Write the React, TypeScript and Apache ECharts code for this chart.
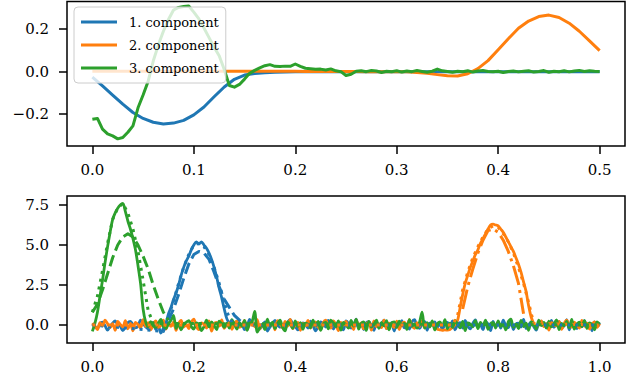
import React, { useEffect, useRef } from "react";
import * as echarts from "echarts";

const componentNames = ["1. component", "2. component", "3. component"];
const colors = ["#1f77b4", "#ff7f0e", "#2ca02c"];

const topXTicks = [0, 0.1, 0.2, 0.3, 0.4, 0.5];
const topYTicks = [-0.2, 0, 0.2];
const bottomXTicks = [0, 0.2, 0.4, 0.6, 0.8, 1.0];
const bottomYTicks = [0, 2.5, 5, 7.5];

// Top panel: estimated components (blue/orange sampled every 0.01, green every 0.005)
const topStep = 0.01;
const blueTop = [
  -0.026, -0.067, -0.11, -0.153, -0.192, -0.22, -0.238, -0.246, -0.242, -0.229,
  -0.203, -0.166, -0.118, -0.072, -0.036, -0.016, -0.009, -0.005, -0.003, -0.002,
  -0.001, -0.001, 0.0, -0.001, 0.0, 0.0, -0.001, 0.0, 0.0, 0.0,
  -0.001, 0.0, 0.0, 0.0, -0.001, 0.0, 0.0, 0.0, 0.0, -0.001,
  0.0, 0.0, 0.0, 0.0, 0.0, -0.001, 0.0, 0.0, 0.0, 0.0, 0.0,
];
const orangeTop = [
  0.002, 0.002, 0.002, 0.002, 0.002, 0.002, 0.002, 0.002, 0.002, 0.002,
  0.002, 0.002, 0.002, 0.002, 0.002, 0.002, 0.002, 0.002, 0.002, 0.002,
  0.002, 0.001, 0.001, 0.001, 0.001, 0.001, 0.001, 0.0, 0.0, 0.0, 0.0,
  -0.001, -0.004, -0.008, -0.014, -0.019, -0.02, -0.01, 0.014, 0.052, 0.103,
  0.155, 0.204, 0.238, 0.259, 0.266, 0.255, 0.228, 0.19, 0.145, 0.099,
];
const greenTopStep = 0.005;
const greenTop = [
  -0.224, -0.22, -0.27, -0.293, -0.302, -0.316, -0.31, -0.285, -0.255, -0.17,
  -0.11, -0.045, 0.05, 0.125, 0.19, 0.245, 0.29, 0.302, 0.306, 0.309,
  0.28, 0.248, 0.205, 0.16, 0.115, 0.075, 0.01, -0.065, -0.073, -0.06,
  -0.035, -0.008, 0.006, 0.018, 0.028, 0.033, 0.025, 0.024, 0.026, 0.025,
  0.036, 0.025, 0.016, 0.014, 0.011, 0.012, 0.008, 0.013, 0.004, 0.0,
  -0.018, -0.012, 0.002, 0.004, 0.0, 0.005, 0.003,
  -0.004, 0.002, 0.0, 0.004, -0.002, 0.003, 0.0, 0.005, 0.001, -0.003,
  0.002, 0.012, 0.004, 0.001, -0.003, 0.002, 0.0, 0.004, -0.002, 0.003,
  0.005, 0.001, 0.0, 0.002, -0.004, 0.001, 0.003, -0.001, 0.002, 0.004,
  -0.002, 0.001, 0.005, -0.003, 0.002, 0.0, 0.004, -0.001, 0.003, 0.006,
  0.001, 0.004, 0.002, 0.001,
];

// Bottom panel: noisy sources sampled every 0.005 over 0..1
const bottomStep = 0.005;
const blueNoisy = [
  // 0 – 0.145
  0.05, -0.12, -0.21, 0.09, 0.18, -0.05, -0.32, -0.1, 0.12, 0.26,
  0.03, -0.08, -0.35, -0.14, 0.15, 0.22, 0.02, -0.18, -0.06, 0.31,
  0.11, -0.12, -0.24, 0.08, 0.17, -0.27, -0.09, -0.5, -0.2, 0.1,
  // 0.15 – 0.27 peak
  0.7, 1.1, 1.6, 2.0, 2.5, 3.1, 3.6, 4.0, 4.3, 4.7,
  5.0, 5.2, 5.05, 5.2, 5.0, 4.8, 4.5, 4.1, 3.6, 3.0,
  2.3, 1.7, 1.0, 0.4, 0.1,
  // 0.275 – 1.0
  -0.15, 0.04, 0.22, -0.08, 0.04, -0.29, -0.11, 0.35, 0.12, -0.06,
  0.11, -0.24, -0.02, 0.19, -0.38, -0.13, 0.07, 0.28, 0.05, -0.14,
  0.01, -0.22, 0.16, 0.33, 0.1, -0.09, -0.31, -0.04, 0.13, 0.05,
  -0.19, 0.24, -0.03, -0.36, -0.12, 0.2, 0.09, -0.13, 0.29, 0.06,
  -0.25, 0.03, 0.17, -0.07, -0.3, 0.25, 0.1, -0.2, -0.02, 0.36,
  -0.11, 0.06, -0.28, 0.14, 0.21, -0.04, -0.34, 0.18, -0.16, 0.08,
  0.3, -0.23, 0.02, 0.15, -0.37, 0.11, -0.05, 0.27, -0.18, 0.04,
  -0.26, 0.19, 0.34, -0.1, -0.21, 0.07, 0.23, -0.33, 0.12, -0.02,
  0.2, -0.15, 0.09, -0.27, 0.05, 0.16, -0.08, 0.25, -0.31, 0.03,
  0.14, -0.19, 0.28, -0.06, -0.24, 0.1, 0.32, -0.12, 0.0, -0.29,
  0.18, 0.07, -0.35, 0.22, -0.1, 0.13, -0.2, 0.3, -0.04, -0.17,
  0.26, -0.28, 0.06, 0.11, -0.13, 0.35, -0.22, 0.01, 0.19, -0.09,
  -0.32, 0.15, 0.24, -0.07, 0.08, -0.26, 0.29, -0.14, 0.03, 0.21,
  -0.18, -0.05, 0.33, -0.3, 0.12, 0.04, -0.23, 0.17, -0.11, 0.27,
  -0.02, 0.09, -0.36, 0.2, -0.08, 0.14,
];
const orangeNoisy = [
  // 0 – 0.715
  0.12, -0.06, -0.28, 0.15, -0.05, 0.31, 0.08, -0.17, 0.08, -0.33,
  0.22, 0.04, -0.12, 0.27, -0.24, 0.1, -0.36, 0.16, 0.03, -0.2,
  0.34, -0.08, 0.14, -0.3, 0.06, 0.25, -0.15, -0.02, 0.3, -0.26,
  0.11, -0.09, 0.2, -0.34, 0.09, 0.28, -0.13, 0.01, -0.23, 0.18,
  0.36, -0.1, -0.29, 0.13, 0.05, -0.19, 0.26, -0.38, 0.08, 0.17,
  -0.07, 0.32, -0.21, 0.02, 0.15, -0.27, 0.1, 0.24, -0.14, -0.03,
  0.29, -0.31, 0.07, 0.19, -0.11, 0.33, -0.25, 0.04, -0.16, 0.21,
  -0.05, 0.12, -0.3, 0.27, 0.09, -0.18, 0.23, -0.07, 0.35, -0.22,
  0.01, 0.16, -0.33, 0.1, -0.04, 0.28, -0.19, 0.06, 0.2, -0.12,
  -0.27, 0.14, 0.31, -0.08, -0.2, 0.25, 0.03, -0.35, 0.17, -0.01,
  0.22, -0.14, 0.09, -0.28, 0.34, -0.06, 0.13, -0.24, 0.05, 0.19,
  -0.32, 0.26, -0.1, 0.08, -0.17, 0.3, -0.23, 0.11, 0.02, -0.15,
  0.24, -0.29, 0.07, 0.18, -0.12, 0.33, -0.04, -0.21, 0.15, -0.09,
  0.27, -0.18, 0.1, -0.12, 0.2, -0.05, -0.26, -0.3, -0.33, -0.31,
  -0.32, -0.28, -0.15, 0.02,
  // 0.72 – 0.87 peak
  0.3, 1.1, 1.9, 2.6, 3.1, 3.6, 4.0, 4.4, 4.7, 5.1,
  5.4, 5.7, 6.0, 6.25, 6.3, 6.25, 6.2, 6.0, 5.8, 5.5,
  5.2, 4.9, 4.6, 4.2, 3.8, 3.3, 2.7, 2.1, 1.2, 0.5, 0.1,
  // 0.875 – 1.0
  -0.18, 0.06, 0.26, -0.1, 0.07, -0.32, 0.14, 0.01, -0.06, 0.23,
  -0.27, 0.1, 0.31, -0.04, -0.13, 0.18, 0.02, -0.2, 0.29, -0.08,
  0.12, -0.25, 0.05, 0.2, -0.14, 0.09,
];
const greenNoisy = [
  // 0 – 0.11 peak
  -0.4, 0.1, 0.8, 1.8, 2.8, 3.9, 4.9, 5.8, 6.6, 7.0,
  7.3, 7.5, 7.6, 7.1, 6.5, 6.0, 5.4, 4.7, 3.7, 2.6,
  1.0, 0.2, -0.1,
  // 0.115 – 1.0
  0.21, -0.05, -0.14, 0.12, 0.35, -0.1, -0.22, 0.08, 0.3, 0.6,
  -0.22, 0.08, -0.3, 0.04, 0.17, 0.27, -0.09, -0.25, 0.13, 0.02,
  -0.35, -0.1, 0.3, -0.12, 0.19, -0.04, -0.28, 0.24, 0.07, -0.15,
  0.11, -0.19, 0.33, 0.06, -0.26, 0.15, -0.08, 0.28, -0.33, 0.1,
  0.22, 0.85, -0.45, -0.17, 0.04, -0.29, 0.36, -0.06, 0.18, -0.23,
  0.09, 0.3, -0.15, -0.37, 0.2, 0.03, -0.21, 0.26, -0.1, 0.14,
  -0.27, 0.12, 0.05, -0.18, 0.3, -0.08, 0.23, -0.34, 0.07, 0.16,
  -0.24, 0.31, 0.13, -0.11, 0.25, -0.32, 0.16, 0.01, -0.2, 0.28,
  -0.07, 0.35, -0.26, 0.09, 0.19, -0.34, 0.22, -0.13, 0.04, 0.3,
  -0.21, 0.15, -0.05, 0.27, -0.3, 0.12, 0.2, -0.16, 0.24, -0.02,
  0.1, -0.28, 0.33, -0.09, 0.05, -0.2, 0.18, 0.8, -0.2, 0.14,
  -0.12, 0.26, -0.31, 0.08, 0.2, -0.06, 0.34, -0.24, 0.11, -0.15,
  0.29, 0.03, -0.18, 0.22, -0.35, 0.13, 0.06, -0.11, 0.27, -0.23,
  0.17, -0.04, 0.31, -0.27, 0.09, 0.14, -0.19, 0.25, -0.08, 0.02,
  -0.3, 0.21, 0.36, -0.14, 0.05, -0.22, 0.28, -0.1, 0.12, -0.33,
  0.19, 0.07, -0.25, 0.3, -0.03, 0.16, -0.2, 0.24, -0.12, 0.08,
  0.32, -0.29, 0.1, -0.06, 0.23, -0.17, 0.35, -0.26, 0.04, 0.18,
  -0.11, 0.27, -0.22, 0.13, 0.01, -0.3, 0.2, 0.06,
];

// Bottom panel: dotted estimates
const blueDotX = [0, 0.14, 0.15, 0.16, 0.17, 0.18, 0.19, 0.2, 0.21, 0.22, 0.23, 0.24, 0.25, 0.26, 0.27, 0.28, 1.0];
const blueDotY = [0, -0.4, 0.5, 1.5, 2.6, 3.6, 4.4, 5.0, 5.1, 4.9, 4.4, 3.6, 2.6, 1.4, 0.4, 0, 0];
const orangeDotX = [0, 0.71, 0.72, 0.73, 0.74, 0.75, 0.76, 0.77, 0.78, 0.79, 0.8, 0.81, 0.82, 0.83, 0.84, 0.85, 0.86, 0.87, 1.0];
const orangeDotY = [0, 0, 0.6, 2.2, 3.3, 4.2, 4.9, 5.5, 6.0, 6.2, 6.1, 5.7, 5.2, 4.5, 3.6, 2.6, 1.4, 0.1, 0];
const greenDotX = [0, 0.01, 0.02, 0.03, 0.04, 0.05, 0.06, 0.07, 0.08, 0.09, 0.1, 0.11, 0.12, 1.0];
const greenDotY = [0.8, 1.8, 3.4, 5.1, 6.6, 7.3, 7.6, 7.0, 6.0, 4.6, 2.8, 0.9, 0.1, 0];

// Bottom panel: dashed / dash-dot estimates
const blueDashX = [0.15, 0.16, 0.17, 0.18, 0.19, 0.2, 0.21, 0.22, 0.23, 0.24, 0.25, 0.26, 0.27, 0.28, 0.29, 0.3];
const blueDashY = [0.3, 1.0, 1.9, 2.9, 3.8, 4.4, 4.6, 4.5, 4.1, 3.3, 2.4, 1.6, 1.1, 0.6, 0.3, 0.1];
const orangeDashX = [0.73, 0.74, 0.75, 0.76, 0.77, 0.78, 0.79, 0.8, 0.81, 0.82, 0.83, 0.84, 0.85];
const orangeDashY = [1.0, 2.4, 3.5, 4.5, 5.3, 5.9, 6.0, 5.8, 5.3, 4.6, 3.7, 2.6, 0.7];
const greenDashX = [0, 0.01, 0.02, 0.03, 0.04, 0.05, 0.06, 0.07, 0.08, 0.09, 0.1, 0.11, 0.12, 0.13, 0.14, 0.15];
const greenDashY = [0.8, 1.3, 2.2, 3.2, 4.2, 5.0, 5.5, 5.7, 5.5, 5.0, 4.3, 3.5, 2.5, 1.6, 0.8, 0.3];

const FONT = "DejaVu Serif";
const LW = 3;

const fmt = (v: number) => (v < -1e-9 ? "\u2212" : "") + Math.abs(v).toFixed(1);
const sampled = (ys: number[], step: number) => ys.map((y, i) => [i * step, y]);
const pairs = (xs: number[], ys: number[]) => ys.map((y, i) => [xs[i], y]);

function line(name: string, data: number[][], color: string, idx: number, type: any = "solid", width = LW, smooth: any = false) {
  return {
    type: "line",
    name,
    data,
    xAxisIndex: idx,
    yAxisIndex: idx,
    showSymbol: false,
    symbol: "none",
    silent: true,
    smooth,
    itemStyle: { color },
    lineStyle: { color, width, type, cap: "butt", join: "round" },
  };
}

function xAxis(idx: number, min: number, max: number, ticks: number[]) {
  return {
    type: "value",
    gridIndex: idx,
    min,
    max,
    axisLine: { show: false, onZero: false },
    splitLine: { show: false },
    axisTick: { show: true, customValues: ticks, length: 8, lineStyle: { color: "#000", width: 1.5 } },
    axisLabel: { customValues: ticks, formatter: fmt, margin: 16, fontFamily: FONT, fontSize: 15, color: "#000" },
  };
}
function yAxis(idx: number, min: number, max: number, ticks: number[]) {
  return {
    type: "value",
    gridIndex: idx,
    min,
    max,
    axisLine: { show: false, onZero: false },
    splitLine: { show: false },
    axisTick: { show: true, customValues: ticks, length: 8, lineStyle: { color: "#000", width: 1.5 } },
    axisLabel: { customValues: ticks, formatter: fmt, margin: 18, fontFamily: FONT, fontSize: 15, color: "#000" },
  };
}

export default function App() {
  const ref = useRef<HTMLDivElement>(null);
  useEffect(() => {
    if (!ref.current) return;
    const chart = echarts.init(ref.current, undefined, { renderer: "svg" });
    const dash = [11.5, 5];
    const dot = [LW, 4.9];
    const dashDot = [19.8, 5, LW, 5];
    chart.setOption({
      animation: false,
      backgroundColor: "#fff",
      grid: [
        { left: 67, top: 1.5, width: 558, height: 144.5, show: true, borderColor: "#000", borderWidth: 1.5, backgroundColor: "transparent" },
        { left: 67, top: 196, width: 558, height: 147, show: true, borderColor: "#000", borderWidth: 1.5, backgroundColor: "transparent" },
      ],
      xAxis: [xAxis(0, -0.025, 0.525, topXTicks), xAxis(1, -0.05, 1.05, bottomXTicks)],
      yAxis: [yAxis(0, -0.3497, 0.33, topYTicks), yAxis(1, -1.125, 8.0625, bottomYTicks)],
      legend: {
        data: componentNames,
        orient: "vertical",
        left: 74,
        top: 7,
        icon: "rect",
        itemWidth: 36,
        itemHeight: 3,
        itemGap: 7,
        padding: [7, 7, 7, 7],
        backgroundColor: "rgba(255,255,255,0.8)",
        borderColor: "#cccccc",
        borderWidth: 1,
        borderRadius: 4,
        selectedMode: false,
        textStyle: { fontFamily: FONT, fontSize: 13, color: "#000", lineHeight: 16, padding: [0, 0, 0, 7] },
      },
      series: [
        line(componentNames[0], sampled(blueTop, topStep), colors[0], 0),
        line(componentNames[1], sampled(orangeTop, topStep), colors[1], 0),
        line(componentNames[2], sampled(greenTop, greenTopStep), colors[2], 0),
        line("s1", sampled(blueNoisy, bottomStep), colors[0], 1, "solid", 2.8, 0.3),
        line("s2", sampled(orangeNoisy, bottomStep), colors[1], 1, "solid", 2.8, 0.3),
        line("s3", sampled(greenNoisy, bottomStep), colors[2], 1, "solid", 2.8, 0.3),
        line("d1", pairs(blueDotX, blueDotY), colors[0], 1, dot),
        line("d2", pairs(orangeDotX, orangeDotY), colors[1], 1, dot),
        line("d3", pairs(greenDotX, greenDotY), colors[2], 1, dot),
        line("e1", pairs(blueDashX, blueDashY), colors[0], 1, dash),
        line("e2", pairs(orangeDashX, orangeDashY), colors[1], 1, dashDot),
        line("e3", pairs(greenDashX, greenDashY), colors[2], 1, dash),
      ],
    });
    return () => chart.dispose();
  }, []);
  return <div ref={ref} style={{ position: "fixed", left: 0, top: 0, width: 635, height: 385 }} />;
}
